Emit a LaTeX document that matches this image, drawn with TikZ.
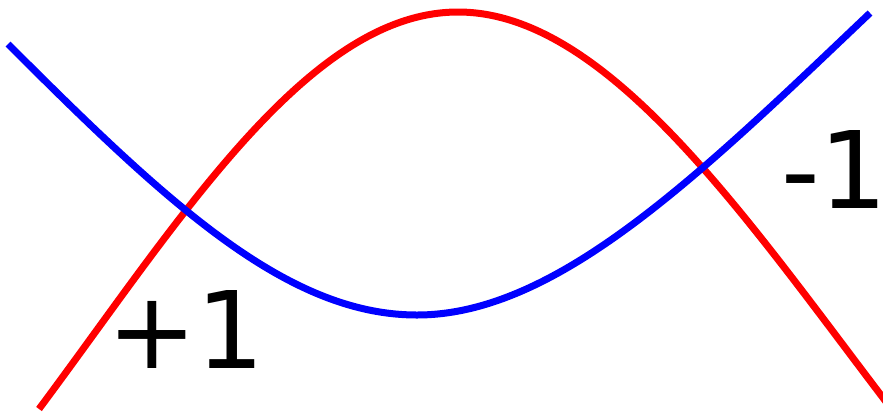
\documentclass[tikz,border=0pt]{standalone}
\usepackage{fontspec}
\setmainfont{DejaVu Sans}
\begin{document}
\begin{tikzpicture}[x=1pt,y=-1pt,
  curve/.style={line width=7pt, line cap=butt},
  lbl/.style={inner sep=0pt, font=\fontsize{107}{120}\selectfont}]
\useasboundingbox (0,0) rectangle (883,413);
\begin{scope}
\clip (0,0) rectangle (883,413);
\coordinate (r0) at (39,409);
\coordinate (rtop) at (458,12);
\coordinate (r1) at (890,407);
\coordinate (b0) at (8,44);
\coordinate (bbot) at (417,315);
\coordinate (b1) at (870,13);
\draw[curve, red] (r0) .. controls (179,221) and (308,12) .. (rtop)
  .. controls (608,12) and (748,221) .. (r1);
\draw[curve, blue] (b0) .. controls (168,204) and (287,315) .. (bbot)
  .. controls (557,315) and (700,174.5) .. (b1);
\end{scope}
\node[lbl, anchor=base west] (plus) at (107,368) {+1};
\node[lbl, anchor=base west] (minus) at (781,208) {-1};
\end{tikzpicture}
\end{document}
